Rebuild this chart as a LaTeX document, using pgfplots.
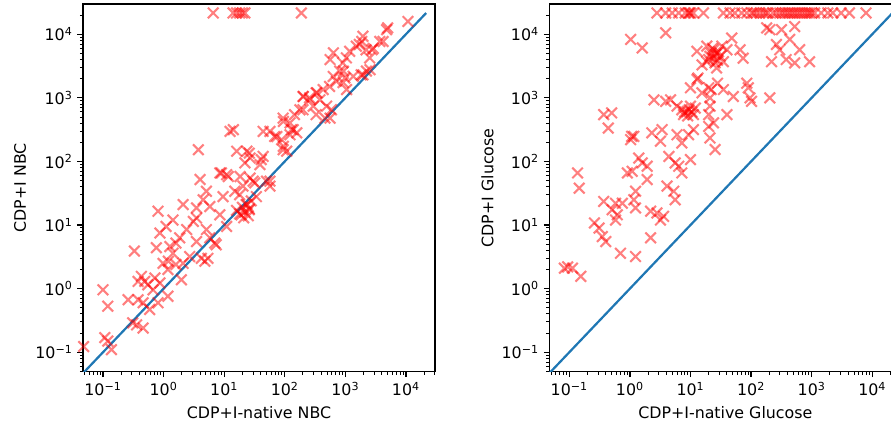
\documentclass[border=0pt]{standalone}
\usepackage{pgfplots}
\pgfplotsset{compat=1.18}
\usepackage{fontspec}
\setmainfont{DejaVu Sans}
\definecolor{mplblue}{HTML}{1F77B4}
\begin{document}
\begin{tikzpicture}
\useasboundingbox (0,0) rectangle (641.52pt,306.72pt);
\begin{axis}[at={(59.76pt,39.1pt)}, anchor=south west,
  xmode=log, ymode=log,
  scale only axis, width=253.44pt, height=264.74pt,
  xmin=0.0468, xmax=30200, ymin=0.0495, ymax=29900,
  axis line style={line width=0.9pt, black},
  tick align=outside, tick pos=left,
  major tick length=4pt, minor tick length=2.3pt,
  major tick style={line width=0.9pt, black},
  minor tick style={line width=0.7pt, black},
  xtick={0.1,1,10,100,1000,10000},
  ytick={0.1,1,10,100,1000,10000},
  xticklabels={10\textsuperscript{−1},10\textsuperscript{0},10\textsuperscript{1},10\textsuperscript{2},10\textsuperscript{3},10\textsuperscript{4}},
  yticklabels={10\textsuperscript{−1},10\textsuperscript{0},10\textsuperscript{1},10\textsuperscript{2},10\textsuperscript{3},10\textsuperscript{4}},
  minor xtick={0.05,0.06,0.07,0.08,0.09,0.2,0.3,0.4,0.5,0.6,0.7,0.8,0.9,2,3,4,5,6,7,8,9,20,30,40,50,60,70,80,90,200,300,400,500,600,700,800,900,2000,3000,4000,5000,6000,7000,8000,9000,20000,30000},
  minor ytick={0.05,0.06,0.07,0.08,0.09,0.2,0.3,0.4,0.5,0.6,0.7,0.8,0.9,2,3,4,5,6,7,8,9,20,30,40,50,60,70,80,90,200,300,400,500,600,700,800,900,2000,3000,4000,5000,6000,7000,8000,9000,20000},
  tick label style={font=\fontsize{11.4}{13.7}\selectfont},
  label style={font=\fontsize{11.4}{13.7}\selectfont},
  xlabel style={at={(axis description cs:0.5,-0.126)}, anchor=base},
  ylabel style={at={(axis description cs:-0.162,0.5)}, anchor=base},
  xlabel={CDP+I-native NBC}, ylabel={CDP+I NBC}]
\addplot[only marks, mark=x, mark size=5.4pt, red, draw opacity=0.5, line width=1.5pt] coordinates {
(6.6,21600)(14,21600)(16,21600)(18,21600)(20,21600)(22,21600)(188,21600)
(10800,15900)(5000,12600)(4200,7700)(1950,9300)(1700,6900)(1520,6500)(2200,5700)(2900,6000)(1180,5400)(1040,4250)(910,3550)(2520,4250)(2230,2630)(1830,2300)(810,2630)(630,2170)(980,2050)(710,1820)(550,1510)(430,1350)(330,1200)(257,1000)(200,1050)(380,930)(490,740)(295,740)(590,650)(200,650)(145,545)(330,545)(94,480)(460,480)
(1870,7700)(635,5100)(2760,5700)(3700,7700)(4800,11800)(560,4000)(930,2630)(1350,2180)(920,1740)(2560,2770)(1960,2300)(1050,1350)(340,1200)(260,930)(560,480)(203,1050)(178,650)(122,405)(95,425)(138,316)(158,282)(122,263)(57,297)(74,247)(89,220)(95,173)(108,145)(44,297)(14.2,316)(12.5,297)(3.75,153)(16.1,145)(23.7,145)(26.8,113)(44,120)(39,89)(22,95)(4.0,52)(8.5,66)(11.7,58)(18.3,58)(26.8,55)(30,49)(50,49)(57,41)
(26,135)(41,107)(68,247)(94,153)(129,316)(9,66)(11,62)
(20.5,41)(32,46)(57,49)(5.1,34)(15,34)(18,30)(9.6,28)(34,28)(4.5,25)(2.1,21)(0.81,16.5)(3.5,18.6)(5.8,19.6)(23,21)(26,17.4)(19,14.5)(8.5,14.5)(1.43,12)(3.1,11.4)(3.5,12.9)(2.4,8.5)(1.1,9.5)(5.1,8.5)(11,9.5)(0.87,7.5)(5.8,6.3)(1.85,6.3)
(0.33,3.9)(0.76,4.4)(1.6,5.2)(0.98,2.5)(1.2,2.7)(1.6,2.4)(2.1,2.5)(2.7,3.2)(4.2,3.0)(4.8,2.7)(5.4,3.0)(3.5,5.5)(7,5.2)(0.43,1.56)(0.49,1.3)(0.55,1.15)(0.38,1.3)(0.72,1.47)(0.87,1.23)(0.67,0.96)(1.97,1.38)(0.10,0.96)(0.26,0.67)(0.38,0.67)(0.46,0.60)(1.18,0.76)(0.81,0.60)(0.12,0.53)(0.59,0.47)(0.31,0.29)(0.46,0.24)(0.36,0.27)(0.107,0.17)(0.12,0.15)(0.138,0.11)(0.048,0.123)(7.4,4.9)(1.43,3.6)(1.27,4.6)(1.18,2.0)
(16,17)(18,15)(20,19)(22,16)(24,21)(26,18)(28,24)(21,13)(25,14)
};
\addplot[mplblue, line width=1.6pt] coordinates {(0.04,0.04) (21600,21600)};
\end{axis}
\begin{axis}[at={(395.5pt,39.1pt)}, anchor=south west,
  xmode=log, ymode=log,
  scale only axis, width=253.44pt, height=264.74pt,
  xmin=0.0468, xmax=30200, ymin=0.0495, ymax=29900,
  axis line style={line width=0.9pt, black},
  tick align=outside, tick pos=left,
  major tick length=4pt, minor tick length=2.3pt,
  major tick style={line width=0.9pt, black},
  minor tick style={line width=0.7pt, black},
  xtick={0.1,1,10,100,1000,10000},
  ytick={0.1,1,10,100,1000,10000},
  xticklabels={10\textsuperscript{−1},10\textsuperscript{0},10\textsuperscript{1},10\textsuperscript{2},10\textsuperscript{3},10\textsuperscript{4}},
  yticklabels={10\textsuperscript{−1},10\textsuperscript{0},10\textsuperscript{1},10\textsuperscript{2},10\textsuperscript{3},10\textsuperscript{4}},
  minor xtick={0.05,0.06,0.07,0.08,0.09,0.2,0.3,0.4,0.5,0.6,0.7,0.8,0.9,2,3,4,5,6,7,8,9,20,30,40,50,60,70,80,90,200,300,400,500,600,700,800,900,2000,3000,4000,5000,6000,7000,8000,9000,20000,30000},
  minor ytick={0.05,0.06,0.07,0.08,0.09,0.2,0.3,0.4,0.5,0.6,0.7,0.8,0.9,2,3,4,5,6,7,8,9,20,30,40,50,60,70,80,90,200,300,400,500,600,700,800,900,2000,3000,4000,5000,6000,7000,8000,9000,20000},
  tick label style={font=\fontsize{11.4}{13.7}\selectfont},
  label style={font=\fontsize{11.4}{13.7}\selectfont},
  xlabel style={at={(axis description cs:0.5,-0.126)}, anchor=base},
  ylabel style={at={(axis description cs:-0.159,0.5)}, anchor=base},
  xlabel={CDP+I-native Glucose}, ylabel={CDP+I Glucose}]
\addplot[only marks, mark=x, mark size=5.4pt, red, draw opacity=0.5, line width=1.5pt] coordinates {
(2.8,21600)(3.9,21600)(5.0,21600)(6.4,21600)(8.2,21600)(9.3,21600)(9.6,21600)(10,21600)(11.2,21600)(16.4,21600)(35,21600)(45,21600)(54,21600)(70,21600)(85,21600)(102,21600)(123,21600)(159,21600)(191,21600)(230,21600)(297,21600)(360,21600)(435,21600)(525,21600)(635,21600)(770,21600)(925,21600)(1120,21600)(1440,21600)(1850,21600)(2230,21600)(3070,21600)(4200,21600)(7900,21600)
(110,21600)(140,21600)(175,21600)(260,21600)(330,21600)(400,21600)(480,21600)(580,21600)(700,21600)(850,21600)(1000,21600)
(1.03,8300)(1.6,6100)(3.9,10500)(181,12600)(204,11800)(318,11800)(525,13200)(435,8300)(262,6900)(297,5700)(635,5700)(218,3700)(380,4000)(525,3550)(925,3700)(48,8700)(12.8,5400)(18.6,6500)(24,5700)(27.4,5100)(31,4500)(21,4500)(18.6,3700)(15.5,3300)(25.5,3550)(35,3700)(33,6500)(40,5700)(66,5700)(74,4200)(27,2950)(12.8,1950)(10,1440)(20,1440)(35,1350)(85,1700)(90,1440)(51,1050)(96,1000)(102,880)(204,1000)(21,1000)(15.5,1200)(2.5,930)(3.9,880)(4.7,930)(6.0,740)(7.2,650)(8.8,610)(10,740)(12,690)(7.7,545)(11.2,545)(21,740)(20,545)(40,545)(0.37,545)(0.50,580)(0.44,335)(1.07,248)(22,1350)(28,1700)(13.3,2050)
(22,5000)(26,4800)(29,5300)(24,4200)(28,3900)(20,4000)(23,6000)
(8,600)(9.5,650)(9,520)(10.5,600)
(1.16,248)(1.03,220)(2.3,282)(3.4,316)(3.2,208)(6.0,263)(7.2,195)(11.2,316)(9.3,263)(20,355)(24,405)(21,234)(25.5,154)(1.4,113)(1.6,95)(1.93,84)(4.4,120)(5.6,95)(6.4,84)(10,107)(7.2,66)(0.91,66)(1.09,70)(1.93,52)(0.137,66)(0.146,38)(4.1,41)(5.3,34)(5.6,25)(1.24,34)(1.16,25)(0.37,23.5)(0.58,22)(0.75,22)(0.51,17.4)(0.62,14.5)(1.24,18.6)(0.58,12)(2.2,16.5)(2.8,15.5)(3.6,13.7)(3.2,12)(0.26,10.8)(0.31,9.0)(0.35,6.6)(0.40,5.5)(2.2,6.3)(0.70,3.6)(1.24,3.2)(0.083,2.1)(0.094,2.2)(0.113,2.1)(0.155,1.56)
};
\addplot[mplblue, line width=1.6pt] coordinates {(0.04,0.04) (21600,21600)};
\end{axis}
\end{tikzpicture}
\end{document}
